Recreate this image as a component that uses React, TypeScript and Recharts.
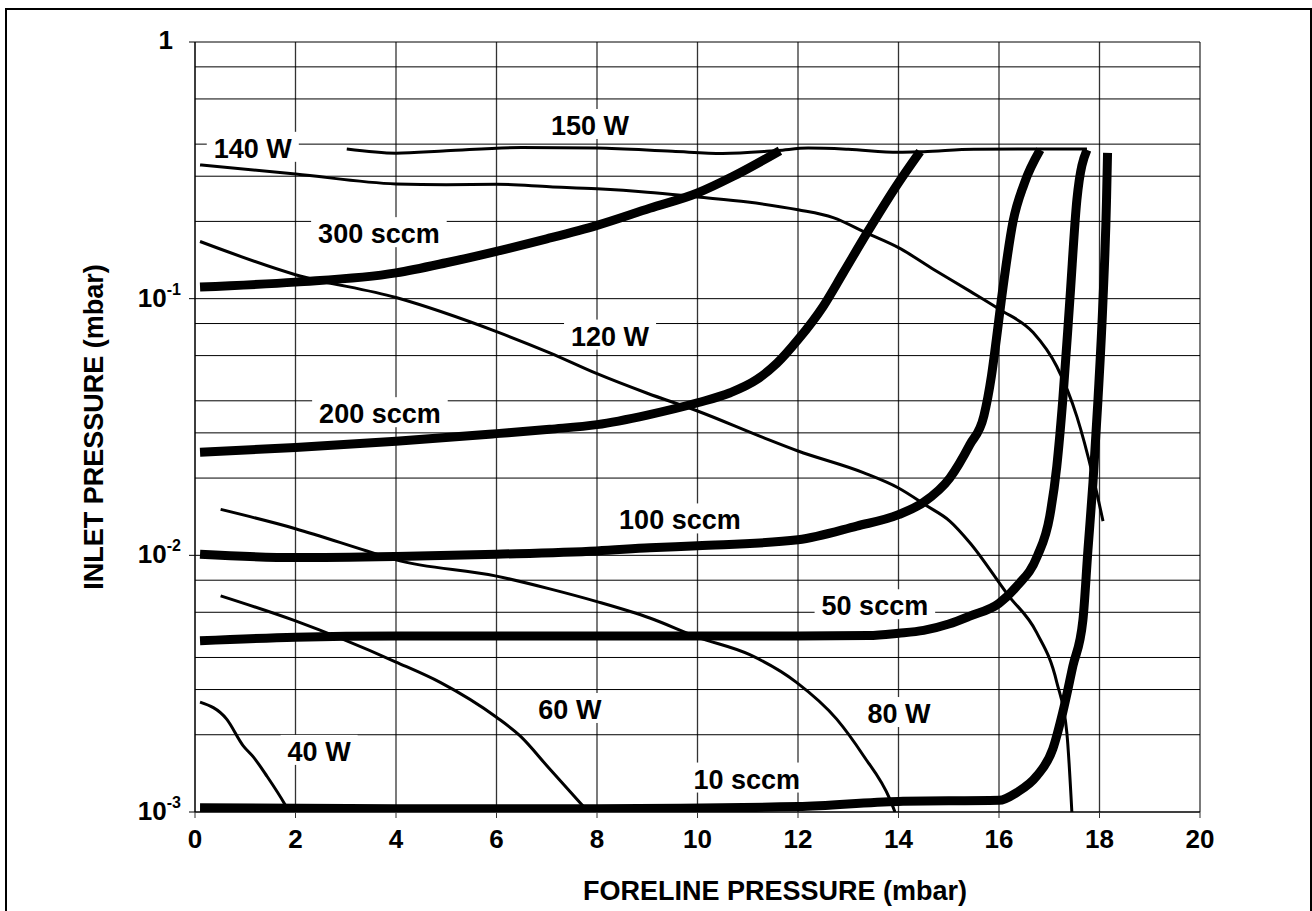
import React from "react";
import {
  LineChart,
  Line,
  XAxis,
  YAxis,
  CartesianGrid,
  ReferenceDot,
  Label,
} from "recharts";

type Pt = [number, number];

const FONT = '"Liberation Sans", Arial, Helvetica, sans-serif';

// axis ticks
const xTicks = [0, 2, 4, 6, 8, 10, 12, 14, 16, 18, 20];
const yTicks = [0.001, 0.01, 0.1, 1];
const yGrid = [
  0.001, 0.002, 0.003, 0.004, 0.005, 0.006, 0.007, 0.008, 0.009,
  0.01, 0.02, 0.03, 0.04, 0.05, 0.06, 0.07, 0.08, 0.09,
  0.1, 0.2, 0.3, 0.4, 0.5, 0.6, 0.7, 0.8, 0.9, 1,
];

// gas flow curves (thick), [foreline mbar, inlet mbar]
const sccm300: Pt[] = [
  [0.1, 0.111], [2, 0.116], [4, 0.126], [5, 0.138], [6, 0.153], [7, 0.171],
  [8, 0.193], [9.05, 0.225], [10, 0.258], [10.7, 0.299], [11.64, 0.377],
];
const sccm200: Pt[] = [
  [0.1, 0.0252], [2, 0.0263], [4, 0.0278], [6, 0.0298], [7.06, 0.031], [8, 0.0323],
  [9, 0.0352], [10, 0.0393], [10.65, 0.043], [11.18, 0.0484], [11.58, 0.056],
  [12, 0.0692], [12.5, 0.0933], [12.9, 0.126], [13.37, 0.18], [14, 0.283], [14.43, 0.374],
];
const sccm100: Pt[] = [
  [0.1, 0.0101], [2, 0.0098], [4, 0.0099], [6, 0.0101], [8, 0.0104], [9.05, 0.0107],
  [10, 0.0109], [12, 0.0115], [13.17, 0.013], [14, 0.0144], [14.5, 0.0161],
  [15.02, 0.02], [15.42, 0.027], [15.7, 0.035], [15.85, 0.05], [15.95, 0.07],
  [16.05, 0.1], [16.28, 0.2], [16.5, 0.28], [16.82, 0.38],
];
const sccm50: Pt[] = [
  [0.1, 0.00465], [2, 0.0048], [4, 0.00485], [6, 0.00485], [9, 0.00485], [12, 0.00485],
  [13.4, 0.00487], [14, 0.00497], [14.5, 0.0051], [15, 0.0054], [15.42, 0.0058],
  [16, 0.0065], [16.36, 0.0076], [16.76, 0.0099], [17.01, 0.0142], [17.15, 0.0222],
  [17.27, 0.0405], [17.41, 0.099], [17.55, 0.243], [17.75, 0.38],
];
const sccm10: Pt[] = [
  [0.1, 0.00104], [4, 0.00103], [8, 0.00103], [12, 0.00105], [14, 0.0011], [16, 0.00111],
  [16.35, 0.00119], [16.75, 0.00138], [17.07, 0.00176], [17.27, 0.00245], [17.47, 0.0037],
  [17.67, 0.0056], [17.77, 0.0105], [17.87, 0.0192], [17.97, 0.0405], [18.07, 0.099],
  [18.14, 0.243], [18.16, 0.37],
];

// power curves (thin)
const w150: Pt[] = [
  [3.02, 0.383], [4, 0.369], [5, 0.377], [6.5, 0.388], [8, 0.386], [9.5, 0.375],
  [10.5, 0.368], [11.6, 0.378], [12.2, 0.386], [13, 0.382], [14, 0.372], [14.5, 0.374],
  [15.5, 0.382], [16.8, 0.383], [17.75, 0.383],
];
const w140: Pt[] = [
  [0.1, 0.332], [2, 0.306], [4, 0.28], [5, 0.278], [6, 0.279], [7.06, 0.273], [8, 0.268],
  [9, 0.26], [10, 0.249], [11, 0.238], [12, 0.222], [12.7, 0.207], [13.37, 0.18],
  [14, 0.158], [14.7, 0.13], [15.42, 0.107], [16.02, 0.0906], [16.68, 0.0738],
  [17.15, 0.0544], [17.55, 0.0347], [17.87, 0.0203], [18.07, 0.0136],
];
const w120: Pt[] = [
  [0.1, 0.167], [2, 0.124], [4, 0.101], [6, 0.0744], [7.06, 0.0615], [8, 0.051],
  [9, 0.0428], [10, 0.0365], [11.3, 0.0288], [12, 0.0255], [13.3, 0.021], [14, 0.0183],
  [14.56, 0.0156], [15.02, 0.0136], [15.42, 0.0112], [16.18, 0.007], [16.75, 0.005],
  [17.15, 0.0032], [17.35, 0.00204], [17.45, 0.001],
];
const w80: Pt[] = [
  [0.51, 0.0151], [2, 0.0127], [3.42, 0.0104], [4, 0.0096], [6, 0.0083], [7.06, 0.0074],
  [8, 0.0066], [9.05, 0.0057], [10, 0.0048], [11.04, 0.0041], [11.97, 0.0032],
  [12.77, 0.0023], [13.3, 0.00166], [13.83, 0.00112], [13.93, 0.001],
];
const w60: Pt[] = [
  [0.51, 0.00695], [2, 0.00555], [4, 0.00384], [4.88, 0.0032], [6, 0.00234],
  [6.47, 0.00198], [7.06, 0.00147], [7.73, 0.00105],
];
const w40: Pt[] = [
  [0.1, 0.00268], [0.63, 0.0023], [0.96, 0.00181], [1.16, 0.00164], [1.43, 0.00138],
  [1.79, 0.00107], [1.85, 0.00102],
];

const thickSeries = [sccm300, sccm200, sccm100, sccm50, sccm10];
const thinSeries = [w150, w140, w120, w80, w60, w40];

// in-plot labels, anchored in data coordinates
const curveLabels = [
  { text: "150 W", x: 7.86, y: 0.475 },
  { text: "140 W", x: 1.15, y: 0.387 },
  { text: "300 sccm", x: 3.66, y: 0.18 },
  { text: "120 W", x: 8.26, y: 0.0718 },
  { text: "200 sccm", x: 3.68, y: 0.0358 },
  { text: "100 sccm", x: 9.65, y: 0.0138 },
  { text: "50 sccm", x: 13.53, y: 0.00639 },
  { text: "80 W", x: 14.01, y: 0.00243 },
  { text: "60 W", x: 7.46, y: 0.00252 },
  { text: "40 W", x: 2.47, y: 0.00173 },
  { text: "10 sccm", x: 10.98, y: 0.00135 },
];

const toPts = (a: Pt[]) => a.map(([x, y]) => ({ x, y }));

const CHAR_W: Record<string, number> = {
  "0": 0.556, "1": 0.556, "2": 0.556, "3": 0.556, "4": 0.556, "5": 0.556,
  "6": 0.556, "7": 0.556, "8": 0.556, "9": 0.556, " ": 0.278, W: 0.944,
  s: 0.556, c: 0.556, m: 0.889,
};
const textWidth = (s: string, size: number) =>
  s.split("").reduce((acc, ch) => acc + (CHAR_W[ch] ?? 0.6), 0) * size;

function LabelBox({ cx, cy, text }: { cx: number; cy: number; text: string }) {
  const size = 27;
  const w = textWidth(text, size);
  return (
    <g>
      <rect x={cx - w / 2 - 7} y={cy - 16} width={w + 14} height={30} fill="#fff" />
      <text
        x={cx}
        y={cy + 10}
        textAnchor="middle"
        fontFamily={FONT}
        fontWeight="bold"
        fontSize={size}
        fill="#000"
      >
        {text}
      </text>
    </g>
  );
}

function XTick({ x, y, payload }: any) {
  return (
    <text
      x={x}
      y={y + 28}
      textAnchor="middle"
      fontFamily={FONT}
      fontWeight="bold"
      fontSize={26}
      fill="#000"
    >
      {payload.value}
    </text>
  );
}

function YTick({ x, y, payload }: any) {
  const v = payload.value as number;
  if (v === 1) {
    return (
      <text x={x - 14} y={y + 7} textAnchor="end" fontFamily={FONT} fontWeight="bold" fontSize={26} fill="#000">
        1
      </text>
    );
  }
  const exp = Math.round(Math.log10(v));
  return (
    <text x={x - 6} y={y + 8} textAnchor="end" fontFamily={FONT} fontWeight="bold" fontSize={26} fill="#000">
      <tspan>10</tspan>
      <tspan dy={-12} fontSize={16}>
        {String(exp)}
      </tspan>
    </text>
  );
}

export default function App() {
  return (
    <div
      style={{
        position: "absolute",
        left: 0,
        top: 0,
        width: 1312,
        height: 911,
        overflow: "hidden",
        background: "#fff",
      }}
    >
      <div
        style={{
          position: "absolute",
          left: 5,
          top: 8,
          width: 1307,
          height: 940,
          border: "2px solid #000",
          boxSizing: "border-box",
        }}
      />
      <div style={{ position: "absolute", left: 0, top: 0 }}>
        <LineChart width={1312} height={911} margin={{ top: 42, right: 112, bottom: 39, left: 95 }}>
          <CartesianGrid horizontal={false} verticalValues={xTicks} stroke="#333" strokeWidth={1.3} />
          <CartesianGrid vertical={false} horizontalValues={yGrid} stroke="#000" strokeWidth={1} />
          <XAxis
            dataKey="x"
            type="number"
            domain={[0, 20]}
            ticks={xTicks}
            allowDataOverflow
            height={60}
            tickSize={6}
            stroke="#333"
            axisLine={{ stroke: "#000" }}
            tick={<XTick />}
          >
            <Label
              content={({ viewBox }: any) => (
                <text
                  x={viewBox.x + 580}
                  y={viewBox.y + 88}
                  textAnchor="middle"
                  fontFamily={FONT}
                  fontWeight="bold"
                  fontSize={27}
                  fill="#000"
                >
                  FORELINE PRESSURE (mbar)
                </text>
              )}
            />
          </XAxis>
          <YAxis
            dataKey="y"
            type="number"
            scale="log"
            domain={[0.001, 1]}
            ticks={yTicks}
            allowDataOverflow
            width={100}
            tickSize={6}
            stroke="#000"
            tick={<YTick />}
          >
            <Label
              content={({ viewBox }: any) => {
                const cx = viewBox.x + 8;
                const cy = viewBox.y + viewBox.height / 2;
                return (
                  <text
                    x={cx}
                    y={cy}
                    transform={`rotate(-90, ${cx}, ${cy})`}
                    textAnchor="middle"
                    fontFamily={FONT}
                    fontWeight="bold"
                    fontSize={27}
                    fill="#000"
                  >
                    INLET PRESSURE (mbar)
                  </text>
                );
              }}
            />
          </YAxis>
          {thinSeries.map((s, i) => (
            <Line
              key={"w" + i}
              data={toPts(s)}
              dataKey="y"
              type="monotone"
              stroke="#000"
              strokeWidth={3}
              dot={false}
              activeDot={false}
              isAnimationActive={false}
            />
          ))}
          {thickSeries.map((s, i) => (
            <Line
              key={"s" + i}
              data={toPts(s)}
              dataKey="y"
              type="monotone"
              stroke="#000"
              strokeWidth={9}
              dot={false}
              activeDot={false}
              isAnimationActive={false}
            />
          ))}
          {curveLabels.map((l) => (
            <ReferenceDot
              key={l.text}
              x={l.x}
              y={l.y}
              r={0}
              shape={(p: any) => <LabelBox cx={p.cx} cy={p.cy} text={l.text} />}
            />
          ))}
        </LineChart>
      </div>
    </div>
  );
}
